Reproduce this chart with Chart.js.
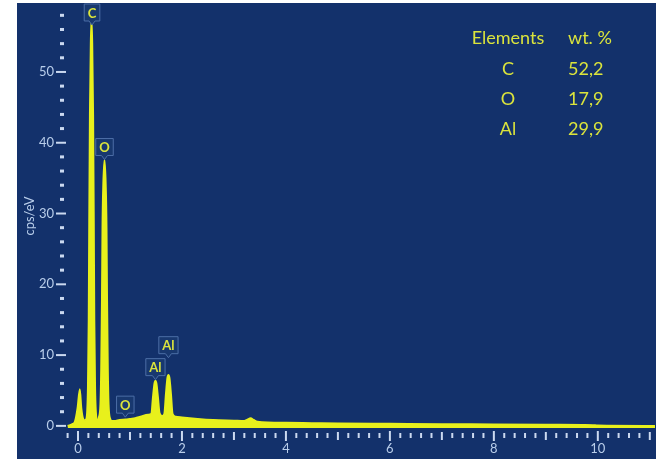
<!DOCTYPE html>
<html lang="en">
<head>
    <meta charset="UTF-8">
    <title>EDS spectrum</title>
    <style>
        body {
            margin: 0;
            background: #ffffff;
        }
        .chart-box {
            position: relative;
            width: 656px;
            height: 459px;
        }
    </style>
</head>
<body>
<div class="chart-box">
    <canvas id="spectrum"></canvas>
</div>

<script src="https://cdn.jsdelivr.net/npm/chart.js"></script>
<script>
    // Spectrum (energy in keV, intensity in cps/eV)
    const energy = [
        -0.2, -0.1, -0.06, -0.01, 0.035, 0.065, 0.1, 0.135,
        0.16, 0.175, 0.19, 0.205, 0.215, 0.228, 0.245, 0.26, 0.275, 0.292, 0.305, 0.315, 0.33, 0.345, 0.375,
        0.40, 0.43, 0.445, 0.46, 0.47, 0.485, 0.51, 0.535, 0.55, 0.56, 0.575, 0.59, 0.62, 0.65,
        0.7, 0.8, 0.92, 1.0, 1.1, 1.2, 1.35,
        1.41, 1.44, 1.47, 1.49, 1.51, 1.54, 1.57, 1.62,
        1.66, 1.69, 1.72, 1.74, 1.76, 1.79, 1.82, 1.88,
        2.0, 2.3, 2.6, 3.0, 3.2, 3.26, 3.32, 3.38, 3.45,
        4.0, 4.5, 5.0, 6.0, 7.0, 8.0, 9.0, 9.7, 9.9, 10.0, 11.1
    ];
    const cps = [
        0, 0.3, 0.6, 2.5, 5.2, 2.5, 1.0, 0.8,
        1.0, 2, 5.5, 15, 29, 44, 54, 57.5, 54, 44, 29, 15, 5.5, 2, 0.7,
        1.2, 3, 8, 18, 28, 34, 37.6, 34, 28, 18, 8, 3, 1.0, 0.7,
        0.7, 0.85, 0.9, 1.0, 1.1, 1.3, 1.6,
        1.7, 4, 6, 6.4, 6, 4, 1.8, 1.4,
        1.7, 4.5, 6.8, 7.2, 6.8, 4.5, 1.7, 1.3,
        1.2, 1.0, 0.85, 0.75, 0.7, 0.9, 1.1, 0.85, 0.6,
        0.45, 0.4, 0.35, 0.3, 0.25, 0.22, 0.18, 0.15, 0.12, 0.05, 0
    ];

    // Peak labels: element, energy, label height (cps/eV)
    const peakNames = ['C', 'O', 'O', 'Al', 'Al'];
    const peakEnergy = [0.27, 0.51, 0.91, 1.49, 1.74];
    const peakLevel = [58.4, 39.4, 3.0, 8.3, 11.4];

    // Composition table
    const tableElements = ['C', 'O', 'Al'];
    const tableWeights = ['52,2', '17,9', '29,9'];

    // Axis tick labels
    const xTickValues = [0, 2, 4, 6, 8, 10];
    const yTickValues = [0, 10, 20, 30, 40, 50];

    const bgColor = '#13316b';
    const axisColor = '#b8cdea';
    const tickMarkColor = '#cbd9f0';
    const yellow = '#e8f01c';
    const labelYellow = '#dbe43c';

    // Blue panel behind the plot
    const panelPlugin = {
        id: 'panel',
        beforeDraw(chart) {
            const ctx = chart.ctx;
            ctx.save();
            ctx.fillStyle = bgColor;
            ctx.fillRect(17, 3, chart.width - 17, chart.height - 3);
            ctx.restore();
        }
    };

    // Major/minor tick marks, peak label boxes and the wt.% table
    const decorPlugin = {
        id: 'decor',
        afterDraw(chart) {
            const ctx = chart.ctx;
            const xs = chart.scales.x;
            const ys = chart.scales.y;
            const area = chart.chartArea;
            ctx.save();
            ctx.fillStyle = tickMarkColor;

            // y ticks every 2 cps/eV
            for (let v = 0; v <= 58; v += 2) {
                const py = ys.getPixelForValue(v);
                if (v % 10 === 0) {
                    ctx.fillRect(area.left - 9, py - 1, 10, 2);
                } else {
                    ctx.fillRect(area.left - 5, py - 1.5, 4, 3);
                }
            }

            // x ticks every 0.2 keV
            for (let k = -1; k <= 55; k++) {
                const px = xs.getPixelForValue(k * 0.2);
                if (px > area.right) break;
                if (k % 10 === 0) {
                    ctx.fillRect(px - 1, area.bottom + 3, 2, 10);
                } else if (k % 5 === 0) {
                    ctx.fillRect(px - 1, area.bottom + 4, 2, 8);
                } else {
                    ctx.fillRect(px - 1, area.bottom + 5, 2, 5);
                }
            }

            // peak label boxes
            ctx.font = 'bold 13px Lato';
            ctx.textAlign = 'center';
            ctx.textBaseline = 'middle';
            peakNames.forEach((name, i) => {
                const cx = xs.getPixelForValue(peakEnergy[i]);
                const cy = ys.getPixelForValue(peakLevel[i]);
                const w = ctx.measureText(name).width + 7;
                const h = 17;
                ctx.beginPath();
                ctx.moveTo(cx - w / 2, cy - h / 2);
                ctx.lineTo(cx + w / 2, cy - h / 2);
                ctx.lineTo(cx + w / 2, cy + h / 2);
                ctx.lineTo(cx + 3, cy + h / 2);
                ctx.lineTo(cx, cy + h / 2 + 4);
                ctx.lineTo(cx - 3, cy + h / 2);
                ctx.lineTo(cx - w / 2, cy + h / 2);
                ctx.closePath();
                ctx.fillStyle = '#18386f';
                ctx.fill();
                ctx.strokeStyle = '#4c6ea6';
                ctx.lineWidth = 1;
                ctx.stroke();
                ctx.fillStyle = labelYellow;
                ctx.fillText(name, cx, cy + 1);
            });

            // composition table
            ctx.font = '18px Lato';
            ctx.fillStyle = labelYellow;
            ctx.textBaseline = 'middle';
            ctx.textAlign = 'center';
            ctx.fillText('Elements', 508, 38);
            ctx.textAlign = 'left';
            ctx.fillText('wt. %', 568, 38);
            tableElements.forEach((el, i) => {
                const rowY = 69 + i * 30;
                ctx.textAlign = 'center';
                ctx.fillText(el, 508, rowY);
                ctx.textAlign = 'left';
                ctx.fillText(tableWeights[i], 568, rowY);
            });
            ctx.restore();
        }
    };

    const points = energy.map((e, i) => ({ x: e, y: cps[i] }));

    new Chart(document.getElementById('spectrum'), {
        type: 'line',
        data: {
            datasets: [{
                data: points,
                borderColor: yellow,
                backgroundColor: yellow,
                borderWidth: 1.8,
                borderJoinStyle: 'round',
                pointRadius: 0,
                cubicInterpolationMode: 'monotone',
                fill: 'start'
            }]
        },
        options: {
            responsive: true,
            maintainAspectRatio: false,
            animation: false,
            layout: {
                padding: { left: 17, top: 4, right: 1, bottom: 0 }
            },
            plugins: {
                legend: { display: false },
                tooltip: { enabled: false }
            },
            scales: {
                x: {
                    type: 'linear',
                    min: -0.25,
                    max: 11.1,
                    afterBuildTicks: s => { s.ticks = xTickValues.map(v => ({ value: v })); },
                    afterFit: s => {
                        s.height = 31;
                        s.paddingLeft = 0;
                        s.paddingRight = 0;
                    },
                    grid: { display: false, drawTicks: false },
                    border: { display: false },
                    ticks: {
                        color: axisColor,
                        font: { family: 'Lato', size: 13 },
                        padding: 13,
                        maxRotation: 0
                    }
                },
                y: {
                    min: -0.3,
                    max: 59.6,
                    afterBuildTicks: s => { s.ticks = yTickValues.map(v => ({ value: v })); },
                    afterFit: s => {
                        s.width = 48;
                        s.paddingTop = 0;
                        s.paddingBottom = 0;
                    },
                    grid: { display: false, drawTicks: false },
                    border: { display: false },
                    ticks: {
                        color: axisColor,
                        font: { family: 'Lato', size: 13 },
                        padding: 11
                    },
                    title: {
                        display: true,
                        text: 'cps/eV',
                        color: axisColor,
                        font: { family: 'Lato', size: 13 },
                        padding: { top: 5, bottom: 0 }
                    }
                }
            }
        },
        plugins: [panelPlugin, decorPlugin]
    });
</script>
</body>
</html>
